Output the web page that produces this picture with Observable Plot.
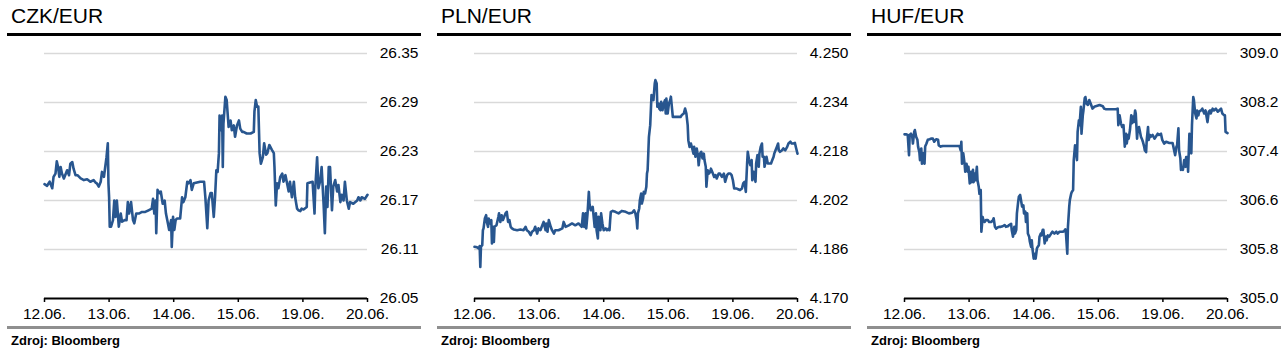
<!DOCTYPE html>
<html><head><meta charset="utf-8">
<script src="https://cdn.jsdelivr.net/npm/d3@7"></script>
<script src="https://cdn.jsdelivr.net/npm/@observablehq/plot@0.6"></script>
<style>
body{margin:0;background:#fff;}
#wrap{position:relative;width:1288px;height:362px;font-family:"Liberation Sans",Arial,sans-serif;color:#000;}
.panel{position:absolute;top:0;width:414px;height:362px;}
.title{position:absolute;left:4px;top:3.5px;font-size:21px;line-height:24px;white-space:nowrap;}
.topRule{position:absolute;left:0;top:33px;width:100%;height:3px;background:#000;}
.chart{position:absolute;left:0;top:37px;}
.botRule{position:absolute;left:0;top:326px;width:100%;height:3px;background:#8f8f8f;}
.src{position:absolute;left:4px;top:333px;font-size:13px;line-height:15px;font-weight:bold;white-space:nowrap;}
</style></head><body><div id="wrap"></div>
<script>
const titles = ["CZK/EUR", "PLN/EUR", "HUF/EUR"];
const source = "Zdroj: Bloomberg";
const dayLabels = ["12.06.", "13.06.", "14.06.", "15.06.", "19.06.", "20.06."];

const czkTicks = [26.05, 26.11, 26.17, 26.23, 26.29, 26.35];
const plnTicks = [4.170, 4.186, 4.202, 4.218, 4.234, 4.250];
const hufTicks = [305.0, 305.8, 306.6, 307.4, 308.2, 309.0];

// time in trading days from 12.06. open
const czkT = [0.00,0.04,0.08,0.12,0.14,0.17,0.19,0.21,0.23,0.25,0.27,0.30,0.32,0.35,0.38,0.40,0.43,0.45,0.48,0.51,0.56,0.61,0.66,0.71,0.76,0.79,0.81,0.84,0.87,0.89,0.92,0.94,0.96,0.98,0.99,1.00,1.01,1.03,1.06,1.08,1.10,1.12,1.15,1.18,1.20,1.24,1.27,1.29,1.31,1.34,1.37,1.39,1.42,1.46,1.51,1.56,1.61,1.66,1.68,1.70,1.72,1.73,1.75,1.78,1.80,1.83,1.86,1.88,1.91,1.93,1.96,1.97,1.99,2.01,2.03,2.05,2.10,2.13,2.15,2.18,2.21,2.23,2.26,2.28,2.31,2.36,2.41,2.47,2.49,2.52,2.54,2.57,2.59,2.62,2.64,2.66,2.68,2.70,2.71,2.73,2.75,2.76,2.77,2.80,2.82,2.85,2.88,2.90,2.93,2.95,2.98,3.01,3.03,3.06,3.08,3.13,3.19,3.24,3.25,3.27,3.29,3.31,3.33,3.35,3.38,3.40,3.43,3.45,3.48,3.52,3.55,3.56,3.58,3.60,3.62,3.65,3.68,3.70,3.73,3.75,3.78,3.80,3.83,3.86,3.88,3.91,3.93,3.96,3.98,4.01,4.06,4.07,4.11,4.15,4.18,4.19,4.22,4.24,4.27,4.29,4.32,4.34,4.36,4.38,4.40,4.42,4.45,4.47,4.50,4.53,4.55,4.58,4.60,4.63,4.65,4.68,4.71,4.73,4.78,4.84,4.86,4.89,4.91,4.96,5.00];
const czkV = [26.190,26.188,26.193,26.185,26.199,26.203,26.218,26.211,26.199,26.211,26.203,26.197,26.201,26.207,26.201,26.215,26.217,26.209,26.201,26.201,26.197,26.195,26.196,26.193,26.195,26.192,26.191,26.187,26.193,26.205,26.199,26.211,26.223,26.240,26.191,26.174,26.138,26.138,26.146,26.170,26.150,26.170,26.138,26.154,26.144,26.146,26.146,26.168,26.154,26.168,26.146,26.142,26.154,26.154,26.156,26.156,26.158,26.160,26.172,26.154,26.170,26.130,26.183,26.179,26.181,26.166,26.170,26.154,26.142,26.134,26.146,26.113,26.150,26.134,26.146,26.148,26.148,26.174,26.168,26.174,26.193,26.191,26.195,26.183,26.191,26.192,26.193,26.193,26.174,26.136,26.170,26.179,26.179,26.150,26.174,26.207,26.205,26.228,26.274,26.256,26.274,26.211,26.264,26.297,26.293,26.260,26.268,26.256,26.262,26.248,26.262,26.268,26.258,26.254,26.254,26.252,26.252,26.254,26.279,26.293,26.285,26.285,26.228,26.215,26.223,26.240,26.226,26.228,26.238,26.232,26.228,26.211,26.164,26.191,26.185,26.199,26.203,26.193,26.201,26.193,26.181,26.193,26.174,26.193,26.174,26.160,26.158,26.157,26.160,26.159,26.162,26.191,26.192,26.193,26.154,26.183,26.223,26.185,26.195,26.211,26.166,26.130,26.187,26.162,26.211,26.211,26.158,26.187,26.195,26.181,26.189,26.168,26.177,26.170,26.193,26.170,26.160,26.168,26.166,26.170,26.174,26.170,26.174,26.172,26.177];

const plnT = [0.00,0.04,0.07,0.08,0.09,0.10,0.12,0.13,0.14,0.16,0.18,0.19,0.21,0.22,0.24,0.26,0.27,0.29,0.30,0.31,0.34,0.37,0.38,0.40,0.42,0.44,0.46,0.48,0.50,0.52,0.54,0.56,0.58,0.61,0.66,0.71,0.76,0.79,0.81,0.84,0.87,0.89,0.92,0.94,0.97,0.99,1.02,1.05,1.07,1.10,1.11,1.13,1.15,1.18,1.20,1.23,1.25,1.30,1.36,1.38,1.41,1.46,1.51,1.56,1.61,1.66,1.68,1.70,1.72,1.73,1.75,1.77,1.78,1.80,1.83,1.85,1.86,1.88,1.89,1.91,1.92,1.95,1.96,1.98,2.00,2.03,2.05,2.08,2.09,2.10,2.11,2.14,2.18,2.23,2.28,2.34,2.39,2.44,2.47,2.49,2.51,2.52,2.53,2.55,2.56,2.58,2.59,2.61,2.62,2.64,2.66,2.67,2.68,2.69,2.70,2.72,2.74,2.75,2.77,2.79,2.80,2.82,2.83,2.85,2.86,2.88,2.89,2.91,2.93,2.95,2.96,2.97,2.99,3.01,3.03,3.04,3.06,3.07,3.09,3.13,3.19,3.21,3.24,3.26,3.28,3.30,3.31,3.33,3.35,3.37,3.39,3.40,3.42,3.44,3.46,3.47,3.49,3.51,3.53,3.55,3.56,3.58,3.59,3.61,3.63,3.65,3.66,3.69,3.71,3.73,3.75,3.78,3.80,3.83,3.86,3.88,3.91,3.93,3.96,3.98,4.00,4.02,4.06,4.09,4.11,4.14,4.16,4.18,4.20,4.22,4.23,4.25,4.27,4.29,4.30,4.32,4.35,4.36,4.38,4.40,4.41,4.43,4.45,4.46,4.48,4.49,4.52,4.54,4.56,4.59,4.61,4.63,4.64,4.66,4.68,4.70,4.71,4.73,4.76,4.78,4.81,4.84,4.86,4.89,4.91,4.94,4.96,4.98,5.00];
const plnV = [4.1869,4.1867,4.1863,4.1871,4.1803,4.1869,4.1874,4.1923,4.1929,4.1961,4.1972,4.1950,4.1934,4.1961,4.1945,4.1956,4.1880,4.1934,4.1885,4.1934,4.1939,4.1967,4.1978,4.1950,4.1972,4.1956,4.1967,4.1978,4.1983,4.1950,4.1956,4.1934,4.1929,4.1925,4.1923,4.1925,4.1923,4.1934,4.1923,4.1918,4.1907,4.1918,4.1923,4.1934,4.1912,4.1929,4.1923,4.1939,4.1950,4.1923,4.1945,4.1918,4.1956,4.1934,4.1923,4.1912,4.1923,4.1923,4.1929,4.1950,4.1934,4.1939,4.1945,4.1939,4.1945,4.1934,4.1978,4.1934,4.1978,4.1929,4.1978,4.2048,4.2010,4.1988,4.1999,4.1956,4.1934,4.1978,4.1923,4.1896,4.1967,4.1923,4.1978,4.1945,4.1923,4.1929,4.1923,4.1929,4.1923,4.1956,4.1983,4.1986,4.1983,4.1978,4.1986,4.1983,4.1978,4.1980,4.1988,4.1978,4.1956,4.1929,4.1978,4.1994,4.2021,4.2043,4.2010,4.2027,4.2048,4.2043,4.2065,4.2108,4.2119,4.2173,4.2228,4.2266,4.2364,4.2359,4.2348,4.2402,4.2413,4.2402,4.2326,4.2337,4.2320,4.2315,4.2342,4.2315,4.2337,4.2348,4.2304,4.2353,4.2304,4.2337,4.2348,4.2359,4.2315,4.2293,4.2293,4.2293,4.2293,4.2299,4.2304,4.2320,4.2304,4.2266,4.2217,4.2195,4.2206,4.2190,4.2173,4.2195,4.2163,4.2190,4.2163,4.2135,4.2173,4.2179,4.2157,4.2173,4.2152,4.2130,4.2065,4.2119,4.2108,4.2114,4.2124,4.2108,4.2097,4.2103,4.2092,4.2108,4.2108,4.2097,4.2108,4.2081,4.2103,4.2108,4.2108,4.2103,4.2086,4.2059,4.2059,4.2056,4.2054,4.2059,4.2076,4.2081,4.2048,4.2141,4.2179,4.2152,4.2135,4.2152,4.2086,4.2114,4.2081,4.2141,4.2168,4.2130,4.2173,4.2195,4.2206,4.2163,4.2163,4.2130,4.2163,4.2141,4.2141,4.2141,4.2152,4.2163,4.2173,4.2184,4.2195,4.2206,4.2184,4.2179,4.2184,4.2190,4.2184,4.2195,4.2206,4.2212,4.2206,4.2206,4.2208,4.2190,4.2173];

const hufT = [0.00,0.03,0.05,0.07,0.08,0.10,0.12,0.13,0.15,0.16,0.18,0.20,0.21,0.23,0.24,0.26,0.27,0.29,0.31,0.32,0.34,0.36,0.39,0.41,0.44,0.46,0.49,0.52,0.53,0.56,0.59,0.64,0.70,0.75,0.80,0.85,0.87,0.88,0.89,0.91,0.93,0.94,0.96,0.98,0.99,1.01,1.03,1.04,1.06,1.07,1.09,1.10,1.12,1.13,1.15,1.16,1.18,1.19,1.21,1.22,1.24,1.26,1.29,1.31,1.34,1.37,1.38,1.40,1.42,1.44,1.47,1.49,1.52,1.55,1.57,1.60,1.62,1.65,1.66,1.68,1.70,1.71,1.73,1.74,1.76,1.77,1.79,1.80,1.82,1.84,1.85,1.87,1.88,1.90,1.91,1.93,1.94,1.96,1.97,1.98,2.00,2.02,2.03,2.05,2.06,2.08,2.09,2.11,2.12,2.14,2.15,2.17,2.19,2.20,2.22,2.24,2.27,2.29,2.32,2.35,2.37,2.40,2.42,2.45,2.47,2.49,2.50,2.52,2.53,2.55,2.56,2.58,2.59,2.61,2.62,2.64,2.65,2.67,2.68,2.70,2.71,2.73,2.74,2.76,2.77,2.79,2.80,2.82,2.84,2.86,2.89,2.91,2.94,2.96,3.02,3.07,3.09,3.12,3.17,3.22,3.27,3.30,3.31,3.33,3.35,3.37,3.39,3.41,3.43,3.44,3.46,3.47,3.49,3.51,3.52,3.54,3.55,3.57,3.58,3.60,3.61,3.63,3.64,3.66,3.68,3.69,3.71,3.72,3.74,3.75,3.77,3.78,3.80,3.81,3.84,3.87,3.89,3.92,3.94,3.97,3.99,4.02,4.05,4.10,4.15,4.18,4.19,4.21,4.22,4.24,4.25,4.27,4.28,4.30,4.31,4.33,4.35,4.36,4.38,4.39,4.41,4.42,4.44,4.45,4.47,4.48,4.50,4.52,4.53,4.55,4.56,4.59,4.61,4.64,4.66,4.69,4.71,4.73,4.74,4.77,4.79,4.82,4.85,4.87,4.90,4.92,4.95,4.96,4.97,5.00];
const hufV = [307.68,307.68,307.67,307.34,307.67,307.69,307.64,307.53,307.72,307.75,307.64,307.59,307.48,307.39,307.26,307.45,307.20,307.37,307.20,307.48,307.53,307.59,307.60,307.61,307.61,307.56,307.60,307.59,307.50,307.48,307.49,307.49,307.49,307.49,307.49,307.49,307.42,307.56,307.20,307.37,307.20,307.07,307.20,307.07,307.15,306.88,307.07,306.90,307.10,306.90,307.04,306.93,307.15,306.93,306.82,306.71,306.77,306.09,306.33,306.28,306.25,306.28,306.28,306.25,306.25,306.28,306.31,306.17,306.14,306.16,306.17,306.17,306.18,306.20,306.17,306.18,306.20,306.22,306.12,306.01,306.17,306.06,306.12,306.39,306.58,306.66,306.69,306.63,306.50,306.52,306.39,306.42,306.25,306.39,306.06,306.01,305.93,305.84,305.95,305.82,305.65,305.73,305.65,305.82,305.84,305.87,306.01,306.06,306.03,306.12,306.12,305.90,306.01,305.95,306.03,306.01,306.06,306.09,306.06,306.09,306.06,306.09,306.09,306.09,306.10,306.13,306.06,305.73,306.17,306.50,306.61,306.71,306.74,306.77,307.26,307.50,307.48,307.26,307.72,307.91,307.83,308.13,307.69,307.99,308.07,308.27,308.29,308.18,308.16,308.24,308.16,308.10,308.13,308.14,308.16,308.14,308.10,308.09,308.09,308.09,308.09,308.10,307.83,307.99,307.86,307.80,307.83,307.48,307.69,307.53,307.67,307.61,307.75,307.99,307.86,307.97,307.88,308.07,308.02,307.61,307.75,307.80,307.75,307.64,307.59,307.56,307.48,307.42,307.39,307.59,307.80,307.59,307.67,307.64,307.67,307.61,307.64,307.69,307.67,307.69,307.59,307.53,307.56,307.54,307.54,307.39,307.34,307.48,307.50,307.78,307.42,307.29,307.10,307.12,307.10,307.26,307.15,307.31,307.31,307.07,307.69,307.45,307.37,307.83,308.29,308.24,308.02,307.94,308.07,307.99,308.05,308.07,308.10,308.02,308.07,307.88,308.05,308.07,308.02,308.10,308.07,308.10,308.05,308.07,308.10,308.02,307.99,307.99,307.72,307.70];

const series = [
  {title: titles[0], t: czkT, v: czkV, ticks: czkTicks, fmt: d3.format(".2f")},
  {title: titles[1], t: plnT, v: plnV, ticks: plnTicks, fmt: d3.format(".3f")},
  {title: titles[2], t: hufT, v: hufV, ticks: hufTicks, fmt: d3.format(".1f")}
];
const panelLeft = [7, 437, 867];
const dayIdx = dayLabels.map((d, i) => i);

function chart(s) {
  const data = s.t.map((x, i) => ({t: x, v: s.v[i]}));
  const lo = s.ticks[0], hi = s.ticks[s.ticks.length - 1];
  return Plot.plot({
    width: 414, height: 289,
    marginTop: 16, marginBottom: 28, marginLeft: 37, marginRight: 54,
    style: {fontFamily: "Liberation Sans, Arial, sans-serif", fontSize: "15.5px", color: "#000", background: "transparent", overflow: "visible"},
    x: {domain: [0, dayLabels.length - 1]},
    y: {domain: [lo, hi]},
    marks: [
      Plot.ruleY(s.ticks.slice(1), {stroke: "#d9d9d9", strokeWidth: 1.5}),
      Plot.axisX({ticks: dayIdx, tickFormat: i => dayLabels[i], tickSize: 4, tickPadding: 5, stroke: "#000", strokeWidth: 1.5, strokeOpacity: 1, fontSize: 15.5, label: null}),
      Plot.ruleY([lo], {stroke: "#000", strokeWidth: 2}),
      Plot.axisY({anchor: "right", ticks: s.ticks, tickFormat: s.fmt, tickSize: 0, tickPadding: 51, textAnchor: "end", fontSize: 15.5, label: null}),
      Plot.line(data, {x: "t", y: "v", stroke: "#28568f", strokeWidth: 2.6})
    ]
  });
}

const wrap = document.getElementById("wrap");
series.forEach((s, i) => {
  const p = document.createElement("div");
  p.className = "panel";
  p.style.left = panelLeft[i] + "px";
  p.innerHTML = `<div class="title">${s.title}</div><div class="topRule"></div><div class="chart"></div><div class="botRule"></div><div class="src">${source}</div>`;
  p.querySelector(".chart").appendChild(chart(s));
  wrap.appendChild(p);
});
</script></body></html>
